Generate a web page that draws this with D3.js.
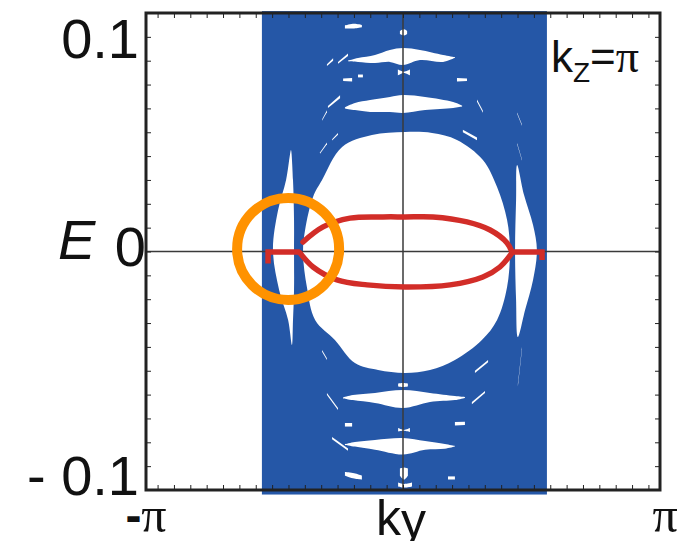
<!DOCTYPE html>
<html>
<head>
<meta charset="utf-8">
<script src="https://cdn.jsdelivr.net/npm/d3@7"></script>
<style>
  html, body { margin: 0; padding: 0; background: #fff; }
  svg { display: block; }
</style>
</head>
<body>
<div id="chart"></div>
<script>
const width = 686;
const height = 541;
const margin = {top: 13, right: 26, bottom: 51, left: 146};

// k en unites de pi, E en unites d'energie
const kDomain = [-1, 1];
const eDomain = [-0.1, 0.1];
const xTickValues = [-1, 1];
const xTickLabels = ["-", ""];   // suivi de pi
const yTickValues = [0.1, 0, -0.1];
const yTickLabels = ["0.1", "0", "- 0.1"];

// continuum (bleu)
const bandK = [-0.549, 0.560];
const bandE = [-0.1019, 0.1008];

// trous blancs dans le continuum : [k, E]
const bubble = [
  [0.008, 0.0501], [0.113, 0.0497], [0.210, 0.0468], [0.311, 0.0384], [0.366, 0.0270],
  [0.405, 0.0132], [0.416, 0.0006], [0.405, -0.0149], [0.366, -0.0287], [0.307, -0.0371],
  [0.202, -0.0455], [0.105, -0.0497], [0.008, -0.0509], [-0.097, -0.0497], [-0.187, -0.0468],
  [-0.265, -0.0371], [-0.342, -0.0287], [-0.374, -0.0149], [-0.389, -0.0006], [-0.381, 0.0090],
  [-0.350, 0.0229], [-0.315, 0.0300], [-0.237, 0.0438], [-0.121, 0.0488]
];
const sliverLeft = [
  [-0.436, 0.0426], [-0.428, 0.0300], [-0.424, 0.0132], [-0.424, 0.0006], [-0.424, -0.0161],
  [-0.428, -0.0287], [-0.432, -0.0392], [-0.447, -0.0287], [-0.482, -0.0161], [-0.506, 0.0006],
  [-0.486, 0.0174], [-0.455, 0.0300], [-0.440, 0.0405]
];
const sliverRight = [
  [0.444, 0.0363], [0.471, 0.0237], [0.506, 0.0111], [0.521, 0.0006], [0.506, -0.0119],
  [0.475, -0.0245], [0.447, -0.0358], [0.440, -0.0203], [0.436, 0.0006], [0.440, 0.0216]
];

// stries blanches : [k, E haut, E bas]
const streaks = [
  [[-0.214, 0.0800, 0.0798], [-0.175, 0.0811, 0.0795], [-0.109, 0.0824, 0.0790], [-0.051, 0.0845, 0.0795],
   [0.000, 0.0853, 0.0782], [0.066, 0.0845, 0.0803], [0.156, 0.0824, 0.0795], [0.202, 0.0815, 0.0812]],
  [[-0.226, 0.0605, 0.0600], [-0.187, 0.0623, 0.0593], [-0.128, 0.0635, 0.0585], [-0.051, 0.0648, 0.0585],
   [0.000, 0.0656, 0.0581], [0.086, 0.0648, 0.0593], [0.195, 0.0627, 0.0602], [0.230, 0.0612, 0.0608]],
  [[-0.233, -0.0612, -0.0616], [-0.195, -0.0602, -0.0623], [-0.109, -0.0593, -0.0635], [0.000, -0.0581, -0.0656],
   [0.105, -0.0593, -0.0631], [0.202, -0.0606, -0.0623], [0.241, -0.0610, -0.0614]],
  [[-0.226, -0.0808, -0.0811], [-0.187, -0.0799, -0.0818], [-0.109, -0.0790, -0.0831], [0.000, -0.0782, -0.0851],
   [0.086, -0.0795, -0.0831], [0.163, -0.0807, -0.0827], [0.202, -0.0815, -0.0818]],
  [[-0.226, 0.0948, 0.0935], [-0.190, 0.0955, 0.0935], [-0.160, 0.0950, 0.0940]],
  [[-0.012, 0.0925, 0.0912], [0.004, 0.0932, 0.0906], [0.016, 0.0925, 0.0912]],
  [[-0.020, 0.0763, 0.0738], [0.004, 0.0754, 0.0748], [0.027, 0.0763, 0.0738]],
  [[-0.233, 0.0725, 0.0715], [-0.198, 0.0727, 0.0713]],
  [[-0.175, 0.0742, 0.0730], [-0.156, 0.0742, 0.0730]],
  [[0.210, 0.0727, 0.0713], [0.249, 0.0725, 0.0715]],
  [[-0.253, 0.0795, 0.0787], [-0.214, 0.0830, 0.0820]],
  [[-0.296, 0.0785, 0.0778], [-0.272, 0.0810, 0.0800]],
  [[-0.292, 0.0610, 0.0602], [-0.245, 0.0655, 0.0643]],
  [[-0.315, 0.0553, 0.0548], [-0.296, 0.0592, 0.0584]],
  [[-0.276, 0.0471, 0.0465], [-0.253, 0.0497, 0.0489]],
  [[-0.323, 0.0415, 0.0410], [-0.296, 0.0457, 0.0450]],
  [[0.288, 0.0637, 0.0628], [0.311, 0.0590, 0.0582]],
  [[0.444, 0.0583, 0.0578], [0.463, 0.0532, 0.0527]],
  [[0.444, 0.0455, 0.0450], [0.463, 0.0386, 0.0382]],
  [[0.233, 0.0510, 0.0500], [0.288, 0.0478, 0.0466]],
  [[-0.019, -0.0553, -0.0566], [0.000, -0.0551, -0.0568], [0.019, -0.0553, -0.0566]],
  [[-0.019, -0.0740, -0.0755], [0.004, -0.0748, -0.0752], [0.027, -0.0740, -0.0757]],
  [[-0.012, -0.0910, -0.0940], [0.004, -0.0906, -0.0956], [0.019, -0.0910, -0.0940]],
  [[-0.019, -0.0969, -0.0985], [0.004, -0.0975, -0.0990], [0.035, -0.0969, -0.0985]],
  [[-0.226, -0.0925, -0.0940], [-0.190, -0.0930, -0.0952], [-0.160, -0.0940, -0.0956]],
  [[0.175, -0.0943, -0.0956], [0.202, -0.0943, -0.0956]],
  [[-0.296, -0.0593, -0.0602], [-0.253, -0.0656, -0.0665]],
  [[0.268, -0.0631, -0.0640], [0.319, -0.0585, -0.0593]],
  [[-0.315, -0.0413, -0.0420], [-0.296, -0.0448, -0.0455]],
  [[0.280, -0.0500, -0.0509], [0.331, -0.0455, -0.0464]],
  [[0.447, -0.0555, -0.0565], [0.463, -0.0400, -0.0410]],
  [[-0.276, -0.0778, -0.0787], [-0.214, -0.0826, -0.0835]],
  [[0.202, -0.0715, -0.0730], [0.241, -0.0714, -0.0727]],
  [[-0.226, -0.0719, -0.0734], [-0.198, -0.0719, -0.0734]]
];

// etats de surface (rouge) : [k, E]
const redUpper = [
  [-0.389, 0.0040], [-0.311, 0.0103], [-0.206, 0.0140], [-0.078, 0.0145], [0.008, 0.0145],
  [0.117, 0.0145], [0.249, 0.0124], [0.339, 0.0090], [0.405, 0.0036], [0.424, -0.0002]
];
const redLower = [
  [-0.401, -0.0006], [-0.350, -0.0065], [-0.257, -0.0119], [-0.140, -0.0140], [0.008, -0.0149],
  [0.183, -0.0140], [0.311, -0.0107], [0.377, -0.0065], [0.424, -0.0006]
];
const redFlatLeft = [[-0.525, -0.0050], [-0.525, -0.0002], [-0.401, -0.0002]];
const redFlatRight = [[0.416, -0.0002], [0.541, -0.0002], [0.541, -0.0036]];

// cercle orange
const highlightK = [-0.447];
const highlightE = [0.0011];

const blue = "#2557a7";
const red = "#d22d28";
const orange = "#ff9200";
const ink = "#222";

const x = d3.scaleLinear().domain(kDomain).range([margin.left, width - margin.right]);
const y = d3.scaleLinear().domain(eDomain).range([height - margin.bottom, margin.top]);

const svg = d3.create("svg")
    .attr("width", width)
    .attr("height", height)
    .attr("viewBox", `0 0 ${width} ${height}`)
    .style("background", "#fff");

// continuum
svg.append("rect")
    .attr("x", x(bandK[0]))
    .attr("y", y(bandE[1]))
    .attr("width", x(bandK[1]) - x(bandK[0]))
    .attr("height", y(bandE[0]) - y(bandE[1]))
    .attr("fill", blue);

const closed = d3.line()
    .x(d => x(d[0]))
    .y(d => y(d[1]))
    .curve(d3.curveCatmullRomClosed);

svg.append("g")
    .attr("fill", "#fff")
  .selectAll("path")
  .data([bubble, sliverLeft, sliverRight])
  .join("path")
    .attr("d", closed);

const streakArea = d3.area()
    .x(d => x(d[0]))
    .y0(d => y(d[2]))
    .y1(d => y(d[1]))
    .curve(d3.curveCatmullRom);

svg.append("g")
    .attr("fill", "#fff")
  .selectAll("path")
  .data(streaks)
  .join("path")
    .attr("d", streakArea);

// lignes k=0 et E=0
svg.append("line")
    .attr("x1", x(0)).attr("x2", x(0))
    .attr("y1", y(eDomain[1])).attr("y2", y(eDomain[0]))
    .attr("stroke", "#3a3a3a").attr("stroke-width", 1.5);
svg.append("line")
    .attr("x1", x(kDomain[0])).attr("x2", x(kDomain[1]))
    .attr("y1", y(0)).attr("y2", y(0))
    .attr("stroke", "#3a3a3a").attr("stroke-width", 1.5);

// etats de surface
const curve = d3.line()
    .x(d => x(d[0]))
    .y(d => y(d[1]))
    .curve(d3.curveCatmullRom);
const straight = d3.line()
    .x(d => x(d[0]))
    .y(d => y(d[1]));

const redG = svg.append("g")
    .attr("fill", "none")
    .attr("stroke", red)
    .attr("stroke-width", 5.5);
redG.selectAll("path.arc")
  .data([redUpper, redLower])
  .join("path")
    .attr("class", "arc")
    .attr("d", curve)
    .attr("stroke-linecap", "round");
redG.selectAll("path.flat")
  .data([redFlatLeft, redFlatRight])
  .join("path")
    .attr("class", "flat")
    .attr("d", straight)
    .attr("stroke-linejoin", "miter");

// cercle orange
svg.append("circle")
    .attr("cx", x(highlightK[0]))
    .attr("cy", y(highlightE[0]))
    .attr("r", 51)
    .attr("fill", "none")
    .attr("stroke", orange)
    .attr("stroke-width", 10);

// graduations internes
const kMinor = d3.range(-15, 16).map(n => n * 0.2 / Math.PI);
const eMinor = d3.range(-9, 10).map(n => n / 100);

const tickStyle = g => {
  g.select(".domain").remove();
  g.selectAll(".tick line").attr("stroke", ink).attr("stroke-width", 1);
};
svg.append("g")
    .attr("transform", `translate(0,${y(eDomain[1])})`)
    .call(d3.axisTop(x).tickValues(kMinor).tickSize(-5).tickFormat(""))
    .call(tickStyle);
svg.append("g")
    .attr("transform", `translate(0,${y(eDomain[0])})`)
    .call(d3.axisBottom(x).tickValues(kMinor).tickSize(-5).tickFormat(""))
    .call(tickStyle);
svg.append("g")
    .attr("transform", `translate(${x(kDomain[0])},0)`)
    .call(d3.axisLeft(y).tickValues(eMinor).tickSize(-5).tickFormat(""))
    .call(tickStyle);
svg.append("g")
    .attr("transform", `translate(${x(kDomain[1])},0)`)
    .call(d3.axisRight(y).tickValues(eMinor).tickSize(-5).tickFormat(""))
    .call(tickStyle);

// cadre
svg.append("rect")
    .attr("x", x(kDomain[0]))
    .attr("y", y(eDomain[1]))
    .attr("width", x(kDomain[1]) - x(kDomain[0]))
    .attr("height", y(eDomain[0]) - y(eDomain[1]))
    .attr("fill", "none")
    .attr("stroke", ink)
    .attr("stroke-width", 3);

// etiquettes
const sans = "'Liberation Sans', Arial, sans-serif";
const serif = "'Liberation Serif', 'Times New Roman', serif";

// position des etiquettes de E (decalages a la main)
const yLabelPos = [
  {dx: -7, dy: 45},
  {dx: 0, dy: 14},
  {dx: -7, dy: 5}
];
svg.append("g")
    .attr("font-family", sans)
    .attr("font-size", 56)
    .attr("fill", "#111")
    .attr("text-anchor", "end")
  .selectAll("text")
  .data(yTickValues)
  .join("text")
    .attr("x", (d, i) => x(kDomain[0]) + yLabelPos[i].dx)
    .attr("y", (d, i) => y(d) + yLabelPos[i].dy)
    .text((d, i) => yTickLabels[i]);

svg.append("text")
    .attr("x", 58)
    .attr("y", y(0) + 7)
    .attr("font-family", sans)
    .attr("font-style", "italic")
    .attr("font-size", 56)
    .attr("fill", "#111")
    .text("E");

const xLab = svg.append("g")
    .attr("fill", "#111")
    .attr("text-anchor", "middle")
  .selectAll("text")
  .data(xTickValues)
  .join("text")
    .attr("x", (d, i) => x(d) + (i === 0 ? 0 : 5))
    .attr("y", height - 9);
xLab.append("tspan")
    .attr("font-family", sans)
    .attr("font-size", 48)
    .attr("font-weight", "bold")
    .text((d, i) => xTickLabels[i]);
xLab.append("tspan")
    .attr("font-family", serif)
    .attr("font-size", 50)
    .text("π");

const kyLabel = svg.append("text")
    .attr("x", x(0) - 2)
    .attr("y", height - 6)
    .attr("text-anchor", "middle")
    .attr("font-family", sans)
    .attr("font-size", 50)
    .attr("fill", "#111");
kyLabel.append("tspan").text("k");
kyLabel.append("tspan").attr("dy", 3).text("y");

const kzLabel = svg.append("text")
    .attr("x", 551)
    .attr("y", 72)
    .attr("font-family", sans)
    .attr("font-size", 44)
    .attr("fill", "#111");
kzLabel.append("tspan").text("k");
kzLabel.append("tspan").attr("font-size", 28).attr("dy", 10).text("Z");
kzLabel.append("tspan").attr("dy", -10).text("=");
kzLabel.append("tspan").attr("font-family", serif).attr("font-size", 46).text("π");

document.getElementById("chart").appendChild(svg.node());
</script>
</body>
</html>
